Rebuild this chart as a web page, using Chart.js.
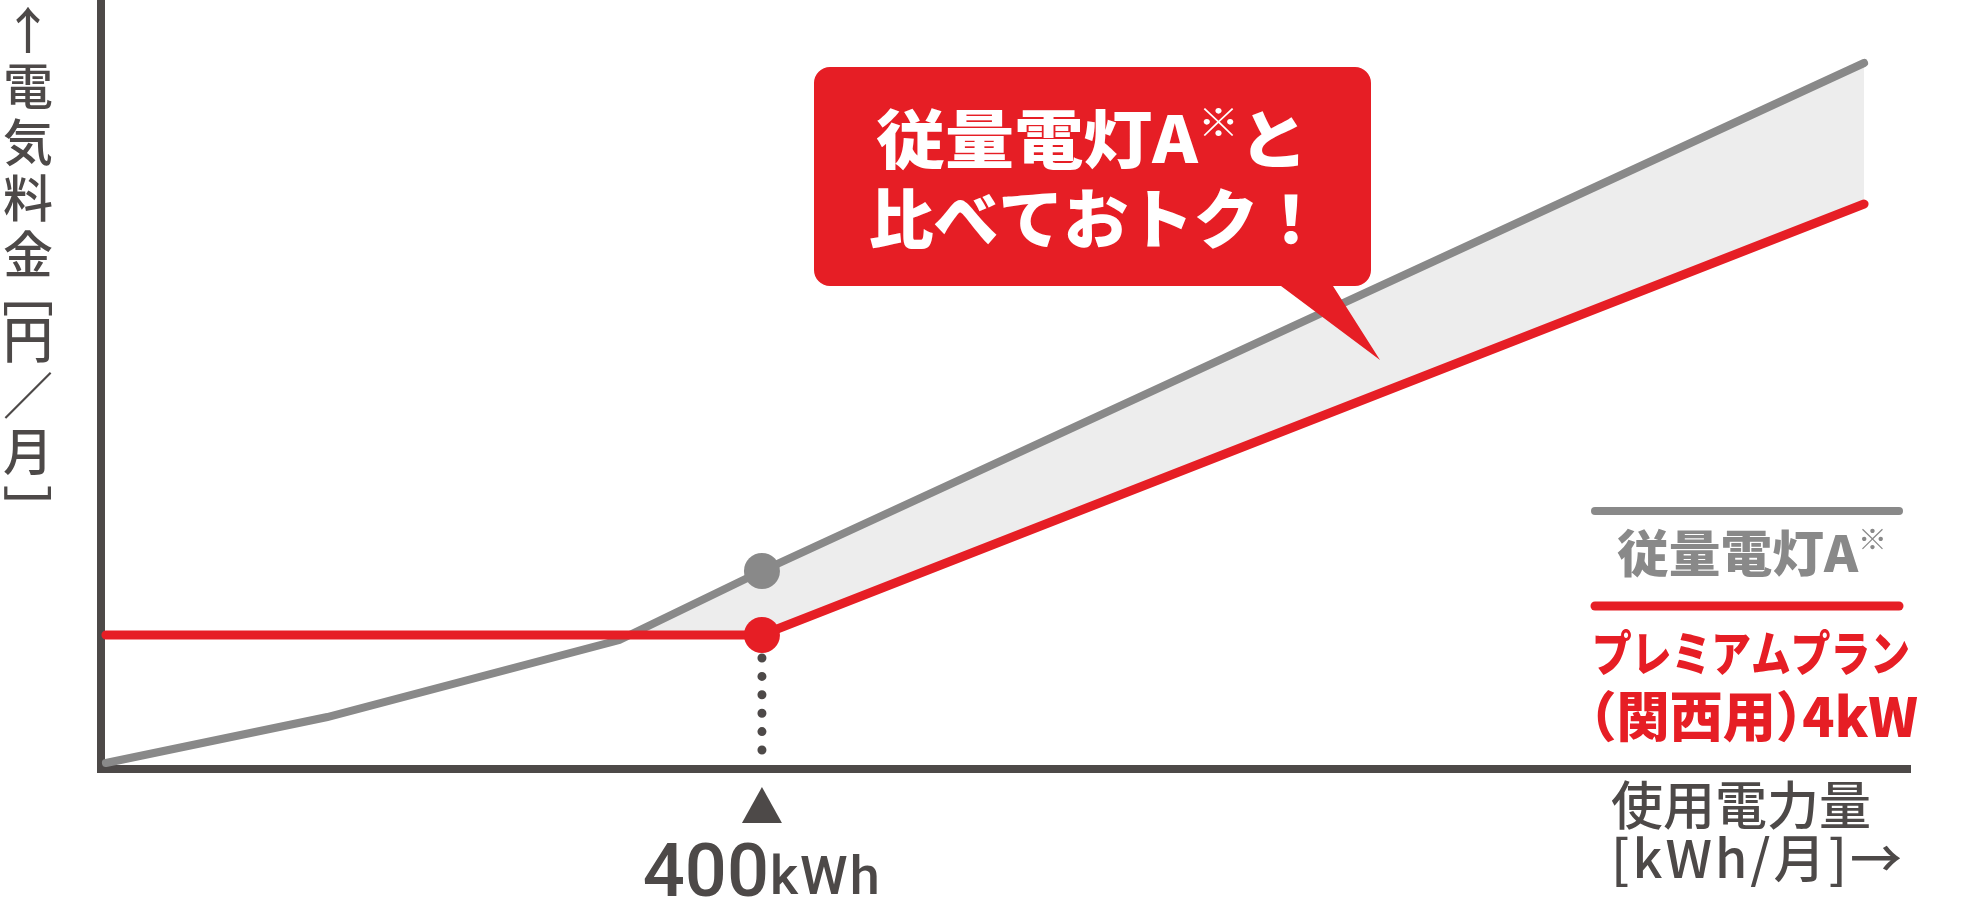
<!DOCTYPE html>
<html lang="ja">
<head>
<meta charset="utf-8">
<title>電気料金比較</title>
<script src="https://cdn.jsdelivr.net/npm/chart.js@4.4.1/dist/chart.umd.min.js"></script>
<style>
  html, body { margin: 0; padding: 0; background: #fff; }
  #wrap { width: 1971px; height: 898px; }
</style>
</head>
<body>
<div id="wrap"><canvas id="chart" width="1971" height="898"></canvas></div>
<script>
// 使用電力量 [kWh/月]
const usage = [0, 135, 313, 400, 1072];
// 電気料金 [円/月] (schematic)
const juryoA = [300, 2600, 6450, 9900, 35300];
const premium = [6700, 6700, 6700, 6700, 28250];
// marked point and the dotted drop line under it
const markUsage = 400;
const dropLine = [950, 5560];

const seriesNames = ['従量電灯A※', 'プレミアムプラン'];
const seriesNote = '（関西用）4kW';
const tickLabels = [{ value: 400, num: '400', unit: 'kWh' }];
const calloutLines = ['従量電灯A※と', '比べておトク！'];
const yTitle = '↑電気料金［円／月］';
const xTitle = ['使用電力量', '[kWh/月]→'];

const GRAY = '#898989', RED = '#e61e25', DARK = '#4d4948', FILL = '#ededed';
const JP = '"Noto Sans CJK JP", "Noto Sans", sans-serif';

const toPoints = ys => usage.map((x, i) => ({ x: x, y: ys[i] }));
const markRadius = ctx => (usage[ctx.dataIndex] === markUsage ? 18 : 0);

// text with a small raised ※ and tight parentheses, optionally squeezed to a width
function drawRich(ctx, text, cx, cy, size, color, width, supRatio) {
  const big = `900 ${size}px ${JP}`;
  const small = `700 ${Math.round(size * (supRatio || 0.5))}px ${JP}`;
  const runs = [];
  let buf = '';
  const flush = () => { if (buf) runs.push({ t: buf, f: big, dy: 0, dx: 0 }); buf = ''; };
  [...text].forEach(ch => {
    if (ch === '※') { flush(); runs.push({ t: ch, f: small, dy: -size * 0.28, dx: 0 }); }
    else if (ch === '（') { flush(); runs.push({ t: ch, f: big, dy: 0, dx: -size * 0.5, w: size * 0.5 }); }
    else if (ch === '）') { flush(); runs.push({ t: ch, f: big, dy: 0, dx: 0, w: size * 0.5 }); }
    else buf += ch;
  });
  flush();
  let total = 0;
  runs.forEach(r => {
    ctx.font = r.f;
    if (r.w === undefined) r.w = ctx.measureText(r.t).width;
    total += r.w;
  });
  const sx = width ? width / total : 1;
  ctx.save();
  ctx.translate(cx, cy);
  ctx.scale(sx, 1);
  ctx.fillStyle = color;
  ctx.textAlign = 'left';
  ctx.textBaseline = 'middle';
  let xx = -total / 2;
  runs.forEach(r => { ctx.font = r.f; ctx.fillText(r.t, xx + r.dx, r.dy); xx += r.w; });
  ctx.restore();
}

function drawYTitle(ctx) {
  ctx.save();
  ctx.fillStyle = DARK;
  ctx.font = `500 50px ${JP}`;
  ctx.textAlign = 'center';
  ctx.textBaseline = 'middle';
  const cx = 28;
  let y = 30, prevAdv = 57;
  [...yTitle].forEach((ch, i) => {
    const bracket = ch === '［' || ch === '］';
    const adv = bracket ? 29 : 56;
    if (i > 0) y += prevAdv / 2 + adv / 2;
    prevAdv = adv;
    if (bracket) {
      const m = ctx.measureText(ch);
      const l = -m.actualBoundingBoxLeft, r = m.actualBoundingBoxRight;
      ctx.save();
      const ty = ch === '［' ? 302 - l : 500 - r;
      ctx.translate(cx, ty);
      ctx.rotate(Math.PI / 2);
      ctx.fillText(ch, 0, 0);
      ctx.restore();
    } else {
      ctx.fillText(ch, cx, y);
    }
  });
  ctx.restore();
}

function drawXTitle(ctx) {
  ctx.save();
  ctx.fillStyle = DARK;
  ctx.font = `500 52px ${JP}`;
  ctx.textBaseline = 'middle';
  ctx.textAlign = 'center';
  ctx.fillText(xTitle[0], 1741, 805);
  ctx.textAlign = 'left';
  ctx.letterSpacing = '3px';
  ctx.fillText(xTitle[1], 1611, 858);
  ctx.restore();
}

function drawTicks(ctx, xs) {
  ctx.save();
  ctx.fillStyle = DARK;
  tickLabels.forEach(t => {
    const px = xs.getPixelForValue(t.value);
    ctx.beginPath();
    ctx.moveTo(px, 787);
    ctx.lineTo(px + 20, 823);
    ctx.lineTo(px - 20, 823);
    ctx.closePath();
    ctx.fill();
    ctx.textBaseline = 'alphabetic';
    ctx.font = '500 74px Roboto, sans-serif';
    ctx.textAlign = 'right';
    ctx.fillText(t.num, px + 7, 896);
    ctx.font = '500 54px Roboto, sans-serif';
    ctx.letterSpacing = '2px';
    ctx.textAlign = 'left';
    ctx.fillText(t.unit, px + 8, 894);
  });
  ctx.restore();
}

function drawLegend(ctx) {
  ctx.save();
  ctx.lineCap = 'round';
  ctx.lineWidth = 8;
  ctx.strokeStyle = GRAY;
  ctx.beginPath(); ctx.moveTo(1595, 511); ctx.lineTo(1899, 511); ctx.stroke();
  ctx.lineWidth = 9;
  ctx.strokeStyle = RED;
  ctx.beginPath(); ctx.moveTo(1595, 606); ctx.lineTo(1899, 606); ctx.stroke();
  ctx.restore();
  drawRich(ctx, seriesNames[0], 1752, 553, 50, GRAY, 270, 0.55);
  drawRich(ctx, seriesNames[1], 1751, 653, 48, RED, 318);
  drawRich(ctx, seriesNote, 1754, 716, 54, RED, 328);
}

function drawCallout(ctx) {
  const L = 814, T = 67, R = 1371, B = 286, r = 16;
  ctx.save();
  ctx.fillStyle = RED;
  ctx.beginPath();
  ctx.moveTo(L + r, T);
  ctx.lineTo(R - r, T);
  ctx.arcTo(R, T, R, T + r, r);
  ctx.lineTo(R, B - r);
  ctx.arcTo(R, B, R - r, B, r);
  ctx.lineTo(1333, B);
  ctx.lineTo(1380, 360);
  ctx.lineTo(1281, B);
  ctx.lineTo(L + r, B);
  ctx.arcTo(L, B, L, B - r, r);
  ctx.lineTo(L, T + r);
  ctx.arcTo(L, T, L + r, T, r);
  ctx.closePath();
  ctx.fill();
  ctx.restore();
  drawRich(ctx, calloutLines[0], 1092, 139, 64, '#fff', 432, 0.6);
  drawRich(ctx, calloutLines[1], 1096, 218, 65, '#fff', 0);
}

const decorations = {
  id: 'decorations',
  afterDraw(chart) {
    const ctx = chart.ctx;
    drawYTitle(ctx);
    drawXTitle(ctx);
    drawTicks(ctx, chart.scales.x);
    drawLegend(ctx);
    drawCallout(ctx);
  }
};

const hiddenAxis = {
  ticks: { display: false },
  grid: { display: false, drawTicks: false },
  border: { display: true, color: DARK, width: 8 }
};

new Chart(document.getElementById('chart'), {
  type: 'line',
  data: {
    datasets: [
      {
        label: seriesNames[1],
        data: toPoints(premium),
        borderColor: RED,
        borderWidth: 9,
        borderCapStyle: 'round',
        pointRadius: markRadius,
        pointBackgroundColor: RED,
        pointBorderWidth: 0,
        fill: false,
        order: 1
      },
      {
        label: seriesNames[0],
        data: toPoints(juryoA),
        borderColor: GRAY,
        borderWidth: 8,
        borderCapStyle: 'round',
        pointRadius: markRadius,
        pointBackgroundColor: GRAY,
        pointBorderWidth: 0,
        fill: { target: 0, above: FILL, below: 'rgba(0,0,0,0)' },
        order: 2
      },
      {
        label: 'drop',
        data: dropLine.map(y => ({ x: markUsage, y: y })),
        borderColor: DARK,
        borderWidth: 9,
        borderDash: [0, 18.4],
        borderCapStyle: 'round',
        pointRadius: 0,
        fill: false,
        order: 3
      }
    ]
  },
  options: {
    responsive: false,
    animation: false,
    devicePixelRatio: 1,
    layout: { padding: { left: 101, top: 0, right: 61, bottom: 129 } },
    plugins: {
      legend: { display: false },
      tooltip: { enabled: false },
      filler: { drawTime: 'beforeDatasetsDraw' }
    },
    scales: {
      x: Object.assign({ type: 'linear', min: -3, max: 1100, afterFit: s => { s.height = 0; } }, hiddenAxis),
      y: Object.assign({ type: 'linear', min: 0, max: 38450, afterFit: s => { s.width = 0; } }, hiddenAxis)
    }
  },
  plugins: [decorations]
});
</script>
</body>
</html>
